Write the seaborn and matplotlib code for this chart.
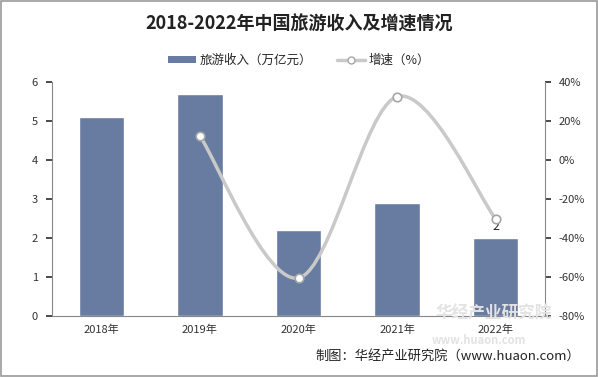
import matplotlib
matplotlib.use("Agg")
import matplotlib.pyplot as plt
import seaborn as sns
import pandas as pd
import numpy as np
from matplotlib.path import Path
from matplotlib.patches import PathPatch, Patch, Rectangle
from matplotlib.lines import Line2D

years = ["2018年", "2019年", "2020年", "2021年", "2022年"]
revenue = [5.1, 5.7, 2.2, 2.9, 2.0]
growth_years = ["2019年", "2020年", "2021年", "2022年"]
growth = [12.3, -60.5, 32.5, -30.2]
left_ticks = [0, 1, 2, 3, 4, 5, 6]
right_ticks = [40, 20, 0, -20, -40, -60, -80]

sns.set_theme(style="white")
plt.rcParams['font.family'] = ['Noto Sans CJK SC', 'DejaVu Sans']

bar_color = "#687ba0"
line_color = "#c9c9c9"

fig = plt.figure(figsize=(5.98, 3.77), dpi=100)
ax = fig.add_axes([52/598, 61/377, 493/598, 234/377])
df = pd.DataFrame({"year": years, "revenue": revenue})
sns.barplot(data=df, x="year", y="revenue", color=bar_color, saturation=1,
            width=0.46, ax=ax)
ax.set_ylim(0, 6)
ax.set_yticks(left_ticks)
ax.set_xlabel("")
ax.set_ylabel("")
ax.tick_params(axis='y', labelsize=8, colors="#333333", length=4, direction='out', left=True, pad=6)
ax.tick_params(axis='x', labelsize=8, colors="#333333", length=0, pad=6)
for s in ["top", "right"]:
    ax.spines[s].set_visible(False)
for s in ["left", "bottom"]:
    ax.spines[s].set_color("#888888")
    ax.spines[s].set_linewidth(0.8)
ax.set_xlim(-0.5, 4.5)

# data label on last bar
ax.text(4, revenue[-1] + 0.12, "2", ha="center", va="bottom", fontsize=9, color="#222222")

ax2 = ax.twinx()
ax2.set_ylim(-80, 40)
ax2.set_yticks(right_ticks)
ax2.set_yticklabels([f"{t}%" for t in right_ticks])
ax2.tick_params(axis='y', labelsize=8, colors="#333333", length=4, direction='out', right=True, pad=6)
for s in ["top", "left", "bottom"]:
    ax2.spines[s].set_visible(False)
ax2.spines["right"].set_color("#888888")
ax2.spines["right"].set_linewidth(0.8)

xs = [years.index(y) for y in growth_years]
pts = np.array(list(zip(xs, growth)), dtype=float)
# smoothed line (Excel-like Bezier)
verts = [tuple(pts[0])]
codes = [Path.MOVETO]
n = len(pts)
for i in range(n - 1):
    p0 = pts[i - 1] if i > 0 else pts[i]
    p1 = pts[i]
    p2 = pts[i + 1]
    p3 = pts[i + 2] if i + 2 < n else pts[i + 1]
    c1 = p1 + (p2 - p0) / 6
    c2 = p2 - (p3 - p1) / 6
    verts += [tuple(c1), tuple(c2), tuple(p2)]
    codes += [Path.CURVE4] * 3
patch = PathPatch(Path(verts, codes), facecolor="none", edgecolor=line_color,
                  linewidth=2.5, transform=ax2.transData, zorder=3)
ax2.add_patch(patch)
gdf = pd.DataFrame({"x": xs, "g": growth})
sns.scatterplot(data=gdf, x="x", y="g", ax=ax2, s=38, facecolor="white",
                edgecolor="#a6a6a6", linewidth=1.2, zorder=4, legend=False)
ax2.set_xlabel("")
ax2.set_ylabel("")
ax2.set_xlim(-0.5, 4.5)

# watermark (faint)
fig.text(0.825, 1 - 313/377, "华经产业研究院", fontsize=12, color="#e3e3e3", ha="center", va="center",
         fontweight="bold", zorder=0)
fig.text(0.80, 1 - 341/377, "www.huaon.com", fontsize=8, color="#e3e3e3", ha="center", va="center",
         fontweight="bold", zorder=0)

fig.text(0.5, 1 - 24/377, "2018-2022年中国旅游收入及增速情况", fontsize=13, fontweight="bold",
         ha="center", va="center", color="#222222")

handles = [Patch(facecolor=bar_color, edgecolor="none"),
           Line2D([0], [0], color=line_color, lw=2.5, marker="o", markersize=5,
                  markerfacecolor="white", markeredgecolor="#a6a6a6")]
fig.legend(handles, ["旅游收入（万亿元）", "增速（%）"], loc="center",
           bbox_to_anchor=(0.5, 1 - 60/377), ncol=2, frameon=False, fontsize=9,
           handlelength=2.2, handleheight=0.5, columnspacing=2.0, handletextpad=0.3)

fig.text(580/598, 1 - 356/377, "制图：华经产业研究院（www.huaon.com）", fontsize=9.5,
         ha="right", va="center", color="#222222")

fig.patches.append(Rectangle((1/598, 1/377), 596/598, 375/377, transform=fig.transFigure,
                             fill=False, edgecolor="#999999", linewidth=1.2))

fig.savefig("out.png", dpi=100)
